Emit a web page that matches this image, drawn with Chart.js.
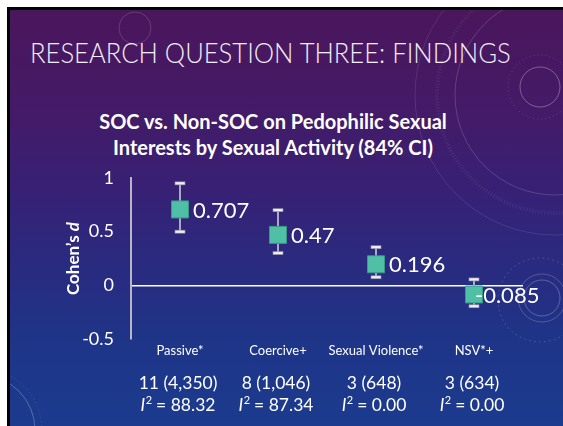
<!DOCTYPE html>
<html>
<head>
<meta charset="utf-8">
<script src="https://cdn.jsdelivr.net/npm/chart.js@4.4.1/dist/chart.umd.min.js"></script>
<style>
  html, body { margin: 0; padding: 0; background: #ffffff; width: 563px; height: 426px; overflow: hidden; }
  #frame { position: absolute; left: 7px; top: 7px; width: 556px; height: 419px; background: #000; }
  #slide { position: absolute; left: 10px; top: 10px; width: 553px; height: 416px; overflow: hidden;
    background: linear-gradient(180deg, #4a165c 0%, #451a66 22%, #382074 42%, #292b80 62%, #1e3588 80%, #1c3b8e 100%); }
  #deco { position: absolute; left: 0; top: 0; }
  #title { position: absolute; left: 20px; top: 28px; font-family: Lato, "Open Sans", sans-serif; font-weight: 300;
    font-size: 28px; line-height: 28px; color: #f2eef6; white-space: nowrap; transform: scaleX(0.915); transform-origin: 0 0; }
  #ctitle { position: absolute; left: 0; width: 526px; top: 98px; text-align: center; font-family: Lato, sans-serif;
    font-weight: 700; font-size: 20px; line-height: 26px; color: #ffffff; }
  #wrap { position: absolute; left: 0; top: 0; width: 563px; height: 426px; }
</style>
</head>
<body>
<div id="frame"></div>
<div id="slide">
  <svg id="deco" width="553" height="416" viewBox="0 0 553 416">
    <g fill="none" stroke="#ffffff" stroke-opacity="0.16">
      <circle cx="125" cy="18" r="16" />
      <circle cx="530" cy="77" r="20" stroke-opacity="0.3"/>
      <circle cx="530" cy="77" r="32" stroke-dasharray="1 3"/>
      <circle cx="545" cy="85" r="100" />
      <circle cx="545" cy="85" r="118" stroke-dasharray="1 2" stroke-width="4" stroke-opacity="0.08"/>
      <circle cx="545" cy="85" r="140" stroke-opacity="0.1"/>
      <circle cx="532" cy="288" r="18" stroke-opacity="0.25"/>
      <circle cx="532" cy="288" r="24" stroke-opacity="0.2"/>
      <circle cx="530" cy="290" r="42" stroke-dasharray="2 3"/>
      <circle cx="-30" cy="420" r="55" stroke-opacity="0.25"/>
      <circle cx="-30" cy="420" r="62" stroke-dasharray="1 3"/>
    </g>
  </svg>
  <div id="title">RESEARCH QUESTION THREE: FINDINGS</div>
  <div id="ctitle">SOC vs. Non-SOC on Pedophilic Sexual<br>Interests by Sexual Activity (84% CI)</div>
</div>
<div id="wrap"><canvas id="c" width="563" height="426"></canvas></div>
<script>
const categories = ["Passive*", "Coercive+", "Sexual Violence*", "NSV*+"];
const effects = [0.707, 0.47, 0.196, -0.085];
const ciLow = [0.50, 0.30, 0.075, -0.195];
const ciHigh = [0.95, 0.70, 0.355, 0.055];
const effectLabels = ["0.707", "0.47", "0.196", "-0.085"];
const studyCounts = ["11 (4,350)", "8 (1,046)", "3 (648)", "3 (634)"];
const i2Values = ["88.32", "87.34", "0.00", "0.00"];
const yTicks = [-0.5, 0, 0.5, 1];
const yTitle = "Cohen\u2019s ";
const yTitleItalic = "d";

const FONT = "Lato, 'Open Sans', sans-serif";

const errorBars = {
  id: 'errorBars',
  beforeDatasetsDraw(chart) {
    const ctx = chart.ctx, xs = chart.scales.x, ys = chart.scales.y;
    ctx.save();
    categories.forEach((c, i) => {
      const x = xs.getPixelForValue(i);
      const yl = ys.getPixelForValue(ciLow[i]);
      const yh = ys.getPixelForValue(ciHigh[i]);
      ctx.strokeStyle = '#cdc9dc';
      ctx.lineWidth = 1.6;
      ctx.beginPath(); ctx.moveTo(x, yl); ctx.lineTo(x, yh); ctx.stroke();
      [yl, yh].forEach(y => {
        ctx.fillStyle = '#eeedf3';
        ctx.fillRect(x - 5, y - 1.5, 10, 3);
        ctx.strokeStyle = '#8f8ca4';
        ctx.lineWidth = 0.6;
        ctx.strokeRect(x - 5, y - 1.5, 10, 3);
      });
    });
    ctx.restore();
  }
};

const pointLabels = {
  id: 'pointLabels',
  afterDatasetsDraw(chart) {
    const ctx = chart.ctx, xs = chart.scales.x, ys = chart.scales.y;
    ctx.save();
    ctx.font = "22px " + FONT;
    ctx.fillStyle = '#ffffff';
    ctx.textAlign = 'left';
    ctx.textBaseline = 'middle';
    categories.forEach((c, i) => {
      const x = xs.getPixelForValue(i);
      const y = ys.getPixelForValue(effects[i]);
      const off = effects[i] < 0 ? 1 : 13;
      ctx.fillText(effectLabels[i], x + off, y + 1);
    });
    ctx.restore();
  }
};

const extraText = {
  id: 'extraText',
  afterDraw(chart) {
    const ctx = chart.ctx, xs = chart.scales.x, ys = chart.scales.y, ca = chart.chartArea;
    ctx.save();
    ctx.fillStyle = '#ffffff';
    // y title
    ctx.save();
    ctx.translate(74, (ca.top + ca.bottom) / 2);
    ctx.rotate(-Math.PI / 2);
    ctx.font = "bold 17px " + FONT;
    const w1 = ctx.measureText(yTitle).width;
    ctx.font = "italic bold 17px " + FONT;
    const w2 = ctx.measureText(yTitleItalic).width;
    ctx.textBaseline = 'middle';
    ctx.textAlign = 'left';
    ctx.font = "bold 17px " + FONT;
    ctx.fillText(yTitle, -(w1 + w2) / 2, 0);
    ctx.font = "italic bold 17px " + FONT;
    ctx.fillText(yTitleItalic, -(w1 + w2) / 2 + w1, 0);
    ctx.restore();
    // bottom text
    ctx.textBaseline = 'alphabetic';
    categories.forEach((c, i) => {
      const x = xs.getPixelForValue(i) - 2;
      ctx.font = "17.5px " + FONT;
      ctx.textAlign = 'center';
      ctx.fillText(studyCounts[i], x, ca.bottom + 50);
      ctx.textAlign = 'left';
      ctx.font = "italic 17.5px " + FONT;
      const a = ctx.measureText("I").width;
      ctx.font = "11px " + FONT;
      const b = ctx.measureText("2").width;
      ctx.font = "17.5px " + FONT;
      const rest = " = " + i2Values[i];
      const r = ctx.measureText(rest).width;
      let sx = x - (a + b + r) / 2;
      const by = ca.bottom + 72;
      ctx.font = "italic 17.5px " + FONT;
      ctx.fillText("I", sx, by);
      ctx.font = "11px " + FONT;
      ctx.fillText("2", sx + a + 0.5, by - 7);
      ctx.font = "17.5px " + FONT;
      ctx.fillText(rest, sx + a + b, by);
    });
    ctx.restore();
  }
};

new Chart(document.getElementById('c'), {
  type: 'line',
  data: {
    labels: categories,
    datasets: [{
      data: effects,
      showLine: false,
      pointStyle: 'rect',
      pointRadius: 12,
      pointHoverRadius: 12,
      pointBackgroundColor: '#4fc0a6',
      pointBorderColor: '#3a9a86',
      pointBorderWidth: 1
    }]
  },
  options: {
    responsive: false,
    animation: false,
    devicePixelRatio: 1,
    layout: { padding: { top: 178, right: 40, bottom: 0, left: 0 } },
    plugins: { legend: { display: false }, tooltip: { enabled: false }, title: { display: false } },
    scales: {
      x: {
        type: 'category',
        offset: true,
        grid: { display: false, drawTicks: false },
        border: { display: false },
        ticks: { color: '#ffffff', font: { family: FONT, size: 13 }, padding: 4, maxRotation: 0, autoSkip: false },
        afterFit(s) { s.height = 87; }
      },
      y: {
        min: -0.5, max: 1,
        afterBuildTicks(s) { s.ticks = yTicks.map(v => ({ value: v })); },
        ticks: { color: '#ffffff', font: { family: FONT, size: 18 }, padding: 17,
          callback: v => String(v) },
        grid: {
          drawTicks: false,
          color: ctx => (ctx.tick && ctx.tick.value === 0) ? '#ffffff' : 'rgba(0,0,0,0)',
          lineWidth: 1.5
        },
        border: { display: true, color: '#b9b5c9', width: 2 },
        afterFit(s) { s.width = 131; }
      }
    }
  },
  plugins: [errorBars, pointLabels, extraText]
});
</script>
</body>
</html>
